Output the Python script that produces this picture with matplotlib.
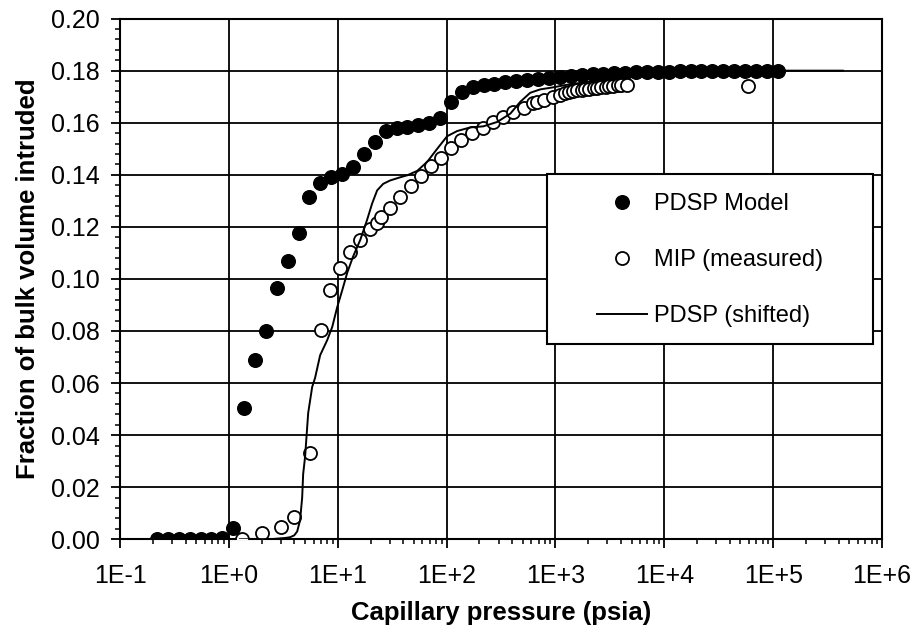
import numpy as np
import matplotlib
matplotlib.use("Agg")
import matplotlib.pyplot as plt
from matplotlib.patches import Rectangle
from matplotlib.ticker import FuncFormatter, LogLocator, MultipleLocator, AutoMinorLocator

plt.rcParams["font.family"] = ["Liberation Sans", "DejaVu Sans"]

# PDSP Model (filled circles)
model_p = [0.219, 0.275, 0.347, 0.437, 0.550, 0.692, 0.871, 1.10, 1.38, 1.74,
           2.19, 2.75, 3.47, 4.37, 5.50, 6.92, 8.71, 11.0, 13.8, 17.4,
           21.9, 27.5, 34.7, 43.7, 55.0, 69.2, 87.1, 110, 138, 174,
           219, 275, 347, 437, 550, 692, 871, 1100, 1380, 1740,
           2190, 2750, 3470, 4370, 5500, 6920, 8710, 11000, 13800, 17400,
           21900, 27500, 34700, 43700, 55000, 69200, 87100, 110000]
model_v = [0.0, 0.0, 0.0, 0.0, 0.0, 0.0, 0.0005, 0.0043, 0.0504, 0.0689,
           0.0800, 0.0965, 0.1070, 0.1177, 0.1315, 0.1369, 0.1392, 0.1404, 0.1430, 0.1480,
           0.1526, 0.1569, 0.1580, 0.1584, 0.1590, 0.1600, 0.1619, 0.1680, 0.1719, 0.1738,
           0.1745, 0.1750, 0.1755, 0.1760, 0.1765, 0.1769, 0.1773, 0.1777, 0.1780, 0.1783,
           0.1786, 0.1788, 0.1790, 0.1792, 0.1793, 0.1794, 0.1795, 0.1796, 0.1797, 0.1797,
           0.1798, 0.1798, 0.1798, 0.1799, 0.1799, 0.1800, 0.1800, 0.1800]

# MIP measured (open circles)
mip_p = [1.32, 2.02, 3.02, 3.97, 5.57, 7.03, 8.51, 10.5, 13.0, 16.1,
         19.9, 23.0, 25.1, 30.3, 37.5, 47.3, 58.5, 72.1, 89.1, 110,
         136, 172, 217, 268, 331, 409, 516, 625, 676, 789,
         955, 1107, 1230, 1340, 1445, 1585, 1738, 1862, 2042, 2239,
         2399, 2630, 2884, 3090, 3388, 3715, 3981, 4571, 58900]
mip_v = [0.0, 0.0024, 0.0047, 0.0085, 0.0331, 0.0803, 0.0957, 0.1042, 0.1104, 0.1150,
         0.1190, 0.1214, 0.1238, 0.1272, 0.1315, 0.1357, 0.1396, 0.1434, 0.1466, 0.1504,
         0.1532, 0.1559, 0.1580, 0.1603, 0.1622, 0.1641, 0.1657, 0.1676, 0.1680, 0.1688,
         0.1699, 0.1707, 0.1714, 0.1718, 0.1722, 0.1725, 0.1727, 0.1729, 0.1731, 0.1733,
         0.1735, 0.1737, 0.1739, 0.1740, 0.1742, 0.1743, 0.1744, 0.1746, 0.1741]

# PDSP shifted (line)
shift_p = [1.26, 2.51, 3.29, 3.65, 3.98, 4.24, 4.51, 4.71, 4.81, 5.01,
           5.35, 5.82, 6.19, 6.89, 8.00, 8.89, 9.86, 11.0, 12.2, 13.8,
           16.1, 18.6, 20.7, 23.0, 26.1, 30.2, 37.2, 43.4, 53.7, 66.4,
           82.0, 101, 125, 165, 217, 292, 385, 474, 586, 724,
           955, 1282, 1690, 3160, 10000, 31600, 100000, 436000]
shift_v = [0.0, 0.0001, 0.0005, 0.0008, 0.0015, 0.0030, 0.0074, 0.0160, 0.0250, 0.0317,
           0.0485, 0.0585, 0.0620, 0.0707, 0.0765, 0.0815, 0.0890, 0.0957, 0.1023, 0.1085,
           0.1150, 0.1227, 0.1290, 0.1340, 0.1365, 0.1378, 0.1390, 0.1398, 0.1415, 0.1450,
           0.1500, 0.1548, 0.1568, 0.1582, 0.1586, 0.1603, 0.1635, 0.1680, 0.1715, 0.1728,
           0.1736, 0.1746, 0.1753, 0.1770, 0.1790, 0.1797, 0.1800, 0.1800]

labels = ["PDSP Model", "MIP (measured)", "PDSP (shifted)"]


def decade_label(v, pos):
    return "1E%+d" % int(round(np.log10(v)))


def main():
    fig = plt.figure(figsize=(9.17, 6.34), dpi=100)
    ax = fig.add_axes([0.1309, 0.1494, 0.8310, 0.8213])

    ax.plot(model_p, model_v, "o", color="black", markersize=9.8, label=labels[0], zorder=3)
    ax.plot(mip_p, mip_v, "o", markerfacecolor="white", markeredgecolor="black",
            markeredgewidth=1.3, markersize=9.4, label=labels[1], zorder=3)
    ax.plot(shift_p, shift_v, "-", color="black", linewidth=1.4, label=labels[2], zorder=3)

    ax.set_xscale("log")
    ax.set_xlim(0.1, 1e6)
    ax.set_ylim(0, 0.20)
    ax.xaxis.set_major_locator(LogLocator(base=10, numticks=20))
    ax.xaxis.set_minor_locator(LogLocator(base=10, subs=np.arange(2, 10), numticks=20))
    ax.xaxis.set_major_formatter(FuncFormatter(decade_label))
    ax.xaxis.set_minor_formatter(FuncFormatter(lambda v, p: ""))
    ax.yaxis.set_major_locator(MultipleLocator(0.02))
    ax.yaxis.set_minor_locator(AutoMinorLocator(5))
    ax.yaxis.set_major_formatter(FuncFormatter(lambda v, p: "%.2f" % v))

    ax.grid(True, which="major", color="black", linewidth=1.3)
    ax.set_axisbelow(True)
    for s in ax.spines.values():
        s.set_linewidth(1.5)
        s.set_color("black")

    ax.tick_params(which="major", direction="out", length=6.5, width=1.3, labelsize=18, colors="black")
    ax.tick_params(which="minor", direction="out", length=3.8, width=1.1)
    ax.tick_params(axis="x", which="major", pad=11)
    ax.tick_params(axis="y", which="major", pad=8)

    ax.set_xlabel("Capillary pressure (psia)", fontsize=18.5, fontweight="bold", labelpad=10)
    ax.set_ylabel("Fraction of bulk volume intruded", fontsize=18.5, fontweight="bold", labelpad=8)

    box = Rectangle((0.560, 0.375), 0.428, 0.327, transform=ax.transAxes,
                    facecolor="white", edgecolor="black", linewidth=1.5, zorder=4)
    ax.add_patch(box)
    leg = ax.legend(loc="center", bbox_to_anchor=(0.774, 0.536), frameon=False,
                    fontsize=17, handlelength=2.1, handletextpad=0.3,
                    labelspacing=1.45, markerscale=1.0)
    leg.set_zorder(5)

    fig.savefig("out.png", dpi=100)
    plt.close(fig)


if __name__ == "__main__":
    main()
